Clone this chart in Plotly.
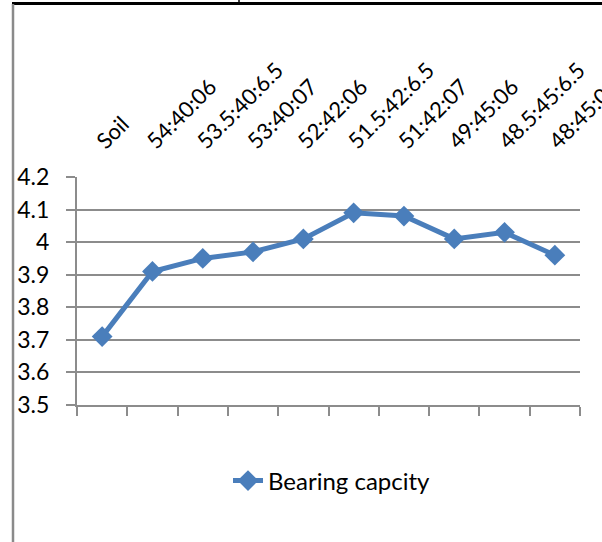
import plotly.graph_objects as go

# Mix ratios (sand:silt:clay style labels) and measured bearing capacity
categories = ["Soil", "54:40:06", "53.5:40:6.5", "53:40:07", "52:42:06",
              "51.5:42:6.5", "51:42:07", "49:45:06", "48.5:45:6.5", "48:45:06"]
bearing_capacity = [3.71, 3.91, 3.95, 3.97, 4.01, 4.09, 4.08, 4.01, 4.03, 3.96]

y_ticks = [3.5, 3.6, 3.7, 3.8, 3.9, 4.0, 4.1, 4.2]

BLUE = "#4a7ebb"
GRID = "#8c8c8c"
FONT = "Lato, Calibri, Carlito, sans-serif"

W, H = 602, 542
ML, MR, MT, MB = 77, 22, 177, 137
PW, PH = W - ML - MR, H - MT - MB


def px_x(p):
    return (p - ML) / PW


def px_y(p):
    return (H - MB - p) / PH


fig = go.Figure()

fig.add_trace(go.Scatter(
    x=categories, y=bearing_capacity,
    mode="lines+markers",
    name="Bearing capcity",
    line=dict(color=BLUE, width=5),
    marker=dict(symbol="diamond", size=16, color=BLUE),
    xaxis="x", yaxis="y",
))

# Invisible copy on the top axis so that it carries the category labels
fig.add_trace(go.Scatter(
    x=categories, y=bearing_capacity,
    mode="markers",
    marker=dict(opacity=0),
    showlegend=False, hoverinfo="skip",
    xaxis="x2", yaxis="y",
))

fig.update_layout(
    width=W, height=H,
    margin=dict(l=ML, r=MR, t=MT, b=MB, autoexpand=False),
    paper_bgcolor="white", plot_bgcolor="white",
    font=dict(family=FONT, size=23, color="black"),
    showlegend=True,
    legend=dict(
        orientation="h",
        x=px_x(228), xanchor="left",
        y=px_y(481), yanchor="middle",
        font=dict(family=FONT, size=24, color="black"),
        bgcolor="rgba(0,0,0,0)",
    ),
    xaxis=dict(
        type="category",
        range=[-0.5, len(categories) - 0.5],
        showticklabels=False,
        showgrid=False, zeroline=False,
        showline=True, linecolor=GRID, linewidth=2,
        ticks="outside", tickson="boundaries",
        ticklen=9, tickwidth=2, tickcolor=GRID,
    ),
    xaxis2=dict(
        type="category",
        overlaying="x", side="top", anchor="y",
        range=[-0.5, len(categories) - 0.5],
        showgrid=False, zeroline=False, showline=False,
        ticks="", tickangle=-45,
        ticklabelshift=-4, ticklabelstandoff=18,
        tickfont=dict(family=FONT, size=22, color="black"),
        automargin=False,
    ),
    yaxis=dict(
        range=[3.5, 4.2],
        tickvals=y_ticks,
        showgrid=True, gridcolor=GRID, gridwidth=2,
        zeroline=False,
        showline=True, linecolor=GRID, linewidth=2,
        ticks="outside", ticklen=9, tickwidth=2, tickcolor=GRID,
        ticklabelstandoff=12,
        tickfont=dict(family=FONT, size=23, color="black"),
        automargin=False,
    ),
    shapes=[
        # table border lines around the chart
        dict(type="line", xref="paper", yref="paper",
             x0=px_x(12), x1=px_x(W + 5), y0=px_y(3.5), y1=px_y(3.5),
             line=dict(color="black", width=3)),
        dict(type="line", xref="paper", yref="paper",
             x0=px_x(239), x1=px_x(239), y0=px_y(-2), y1=px_y(3.5),
             line=dict(color="black", width=1.5)),
        # chart area left edge
        dict(type="line", xref="paper", yref="paper",
             x0=px_x(13), x1=px_x(13), y0=px_y(4), y1=px_y(H + 5),
             line=dict(color="#8a8a8a", width=2.5)),
    ],
)

fig.write_html("out.html")
